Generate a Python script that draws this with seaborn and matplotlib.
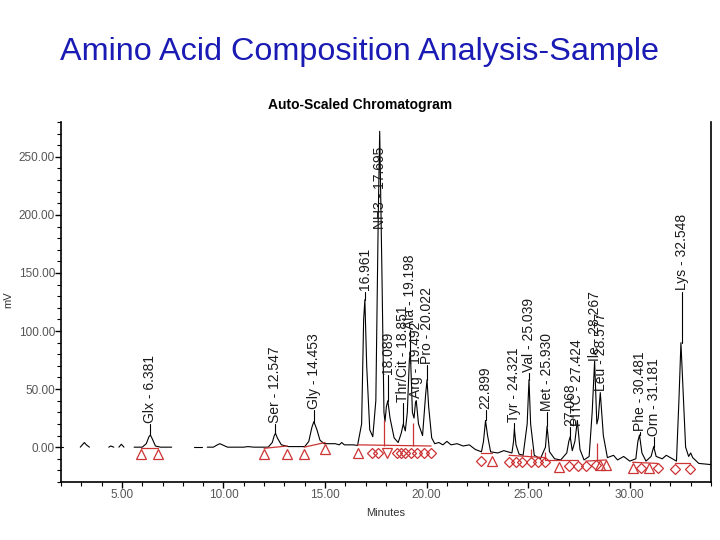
import numpy as np
import pandas as pd
import matplotlib
matplotlib.use("Agg")
import matplotlib.pyplot as plt
from matplotlib.ticker import MultipleLocator, FormatStrFormatter
import seaborn as sns

sns.set_theme(style="ticks")
plt.rcParams["font.family"] = ["Liberation Sans", "DejaVu Sans"]

RED = "#cc3333"
TITLE_BLUE = "#1a1ab4"

# ── Chromatogram trace (minutes, mV); NaN = break in the drawn line ──
trace_t = [2.00, 2.12, np.nan,
           2.95, 3.05, 3.15, 3.25, 3.40, np.nan,
           4.35, 4.45, 4.60, np.nan,
           4.85, 4.97, 5.10, np.nan,
           5.60, 6.00, 6.20, 6.33, 6.40, 6.50, 6.65, 6.90, 7.45, np.nan,
           8.55, 8.95, np.nan,
           9.20, 9.50, 9.70, 9.82, 9.95, 10.20, 11.00, 11.20, 11.50, 12.20,
           12.40, 12.50, 12.56, 12.65, 12.85, 13.20, 14.00, 14.20, 14.35, 14.45,
           14.60, 14.75, 14.95, 15.50, 15.70, 15.82, 15.95, 16.40, 16.60, 16.80,
           16.90, 16.96, 17.05, 17.20, 17.35, 17.50, 17.62, 17.69, 17.80, 17.90,
           17.95, 18.02, 18.09, 18.20, 18.40, 18.60, 18.75, 18.85, 18.95, 19.05,
           19.15, 19.20, 19.30, 19.38, 19.45, 19.49, 19.60, 19.80, 19.95, 20.02,
           20.10, 20.25, 20.40, 20.60, 20.80, 21.00, 21.20, 21.50, 21.80, 22.10,
           22.40, 22.70, 22.80, 22.90, 23.00, 23.15, 23.50, 23.80, 24.00, 24.20,
           24.28, 24.32, 24.40, 24.55, 24.75, 24.95, 25.04, 25.12, 25.30, 25.60,
           25.85, 25.93, 26.05, 26.30, 26.60, 26.90, 27.00, 27.07, 27.17, 27.30,
           27.42, 27.55, 27.75, 28.00, 28.15, 28.27, 28.38, 28.45, 28.55, 28.70,
           28.90, 29.20, 29.40, 29.70, 30.00, 30.30, 30.40, 30.48, 30.60, 30.80,
           31.05, 31.18, 31.30, 31.60, 31.80, 32.10, 32.30, 32.42, 32.52, 32.62,
           32.75, 32.90, 33.00, 33.10, 33.40, 34.00]
trace_mv = [0, 0, np.nan,
            0, 2, 4, 2, 0, np.nan,
            0, 1, 0, np.nan,
            0, 2.5, 0, np.nan,
            0, 0, 3, 9, 10.5, 7, 1, 0, 0, np.nan,
            0, 0, np.nan,
            0, 0, 2, 3, 2, 0, 0, 0.5, 0, 0,
            4, 10, 12, 8, 2, 0.5, 0.5, 5, 17, 22,
            15, 6, 3, 3, 2, 4, 2, 2, 1.5, 20,
            110, 127, 70, 15, 9, 40, 200, 272, 150, 30,
            22, 35, 40, 25, 8, 4, 12, 20, 14, 30,
            75, 82, 30, 25, 38, 40, 20, 10, 45, 58,
            35, 8, 3, 4, 2, 5, 2, 3, 1, 2,
            -2, -4, 5, 23, 10, -4, -5, -3, -4, -5,
            5, 16, 2, -6, -7, 20, 58, 20, -7, -10,
            0, 18, -4, -10, -11, -5, 5, 9, -3, 5,
            23, -2, -11, -8, 30, 74, 20, 25, 47, 10,
            -9, -7, -11, -8, -12, -10, 5, 10.5, -5, -12,
            -8, 0.5, -8, -10, -7, -10, -12, 40, 90, 50,
            0, -8, -5, -9, -14, -15]

# ── Peak labels ──────────────────────────────────────────
label_text = ["Glx - 6.381", "Ser - 12.547", "Gly - 14.453", "16.961",
              "NH3 - 17.695", "18.089", "Thr/Cit - 18.851", "Ala - 19.198",
              "Arg - 19.492", "Pro - 20.022", "22.899", "Tyr - 24.321",
              "Val - 25.039", "Met - 25.930", "27.068", "PITC - 27.424",
              "Ile - 28.267", "Leu - 28.577", "Phe - 30.481", "Orn - 31.181",
              "Lys - 32.548"]
label_rt = [6.381, 12.547, 14.453, 16.961, 17.695, 18.089, 18.851, 19.198,
            19.492, 20.022, 22.899, 24.321, 25.039, 25.930, 27.068, 27.424,
            28.267, 28.577, 30.481, 31.181, 32.548]
peak_top = [10.5, 12, 22, 127, 272, 40, 20, 82, 40, 58, 23, 16, 58, 18, 9,
            23, 74, 47, 10.5, 0.5, 90]
label_base = [20, 20, 32, 134, 187, 62, 38, 101, 41, 71, 32, 21, 64, 30, 17,
              17, 73, 47, 13, 9, 134]

# ── Integration marks (peak start / end) ─────────────────
mark_t = [5.94, 6.77, 12.00, 13.13, 13.97, 15.00,
          16.61, 17.30, 17.62, 18.05, 18.55, 18.72, 18.92, 19.24, 19.53, 19.88, 20.22,
          22.70, 23.24,
          24.06, 24.39, 24.72, 25.13, 25.46, 25.84, 26.53,
          27.02, 27.43, 27.84, 28.33, 28.55, 28.85,
          30.14, 30.55, 30.96, 31.37, 32.25, 32.95]
mark_mv = [-6, -6, -6, -6, -6, -1.5,
           -5, -5, -5, -5, -5, -5, -5, -5, -5, -5, -5,
           -12, -12,
           -13, -13, -13, -13, -13, -13, -17,
           -16, -16, -16, -15, -15, -15,
           -18, -18, -18, -18, -19, -19]
mark_kind = ["^", "^", "^", "^", "^", "^",
             "^", "D", "D", "v", "D", "D", "D", "D", "D", "D", "D",
             "D", "^",
             "D", "D", "D", "D", "D", "D", "^",
             "D", "D", "D", "D", "^", "^",
             "^", "D", "^", "D", "D", "D"]

# integration baselines (start t, start mV, end t, end mV)
base_t0 = [5.94, 12.00, 13.97, 16.60, 22.70, 24.06, 25.84, 27.84, 30.14, 32.25]
base_v0 = [-1, -1, 0, 2, -5, -7, -11, -12, -13, -14]
base_t1 = [6.77, 13.13, 15.00, 20.22, 23.24, 25.84, 27.43, 28.85, 31.37, 32.95]
base_v1 = [-1, 1, 4, 1, -5, -9, -11, -11, -14, -14]

# perpendicular drops (t, valley mV, baseline mV)
drop_t = [17.90, 19.33, 25.13, 25.84, 28.41]
drop_top = [23, 21, -2, -4, 4]
drop_bot = [1, 1, -9, -11, -11]

# ── Figure ───────────────────────────────────────────────
df = pd.DataFrame({"Minutes": trace_t, "mV": trace_mv})
df["seg"] = df["mV"].isna().cumsum()
df = df.dropna()

fig = plt.figure(figsize=(7.2, 5.4), dpi=100)
ax = fig.add_axes([0.0847, 0.1074, 0.9028, 0.6666])

sns.lineplot(data=df, x="Minutes", y="mV", units="seg", estimator=None,
             color="black", linewidth=0.8, ax=ax, legend=False)

for t0, v0, t1, v1 in zip(base_t0, base_v0, base_t1, base_v1):
    ax.plot([t0, t1], [v0, v1], color=RED, lw=0.9)
ax.vlines(drop_t, drop_bot, drop_top, color=RED, lw=0.9)

for kind in set(mark_kind):
    xs = [t for t, k in zip(mark_t, mark_kind) if k == kind]
    ys = [v for v, k in zip(mark_mv, mark_kind) if k == kind]
    ax.plot(xs, ys, ls="none", marker=kind, mfc="none", mec=RED,
            mew=0.9, ms=7.5 if kind in "^v" else 5.5)

for txt, rt, top, base in zip(label_text, label_rt, peak_top, label_base):
    if base > top + 1:
        ax.plot([rt, rt], [top, base], color="black", lw=0.8)
    ax.text(rt, base + 1, txt, rotation=90, ha="center", va="bottom",
            fontsize=10, color="#1a1a1a")

ax.set_xlim(2, 34)
ax.set_ylim(-30, 280)
ax.xaxis.set_major_locator(MultipleLocator(5))
ax.xaxis.set_minor_locator(MultipleLocator(1))
ax.yaxis.set_major_locator(MultipleLocator(50))
ax.yaxis.set_minor_locator(MultipleLocator(10))
ax.xaxis.set_major_formatter(FormatStrFormatter("%.2f"))
ax.yaxis.set_major_formatter(FormatStrFormatter("%.2f"))
ax.tick_params(axis="both", which="major", length=4, width=1, pad=1,
               labelsize=8.5, labelcolor="#555555", color="black")
ax.tick_params(axis="y", which="major", pad=0.3)
ax.tick_params(axis="both", which="minor", length=3, width=0.8, color="black")
ax.set_xlabel("")
ax.set_ylabel("")
for side in ["left", "bottom", "right"]:
    ax.spines[side].set_color("black")
    ax.spines[side].set_linewidth(1.2)
ax.spines["top"].set_visible(False)

fig.text(0.5, 0.889, "Amino Acid Composition Analysis-Sample", ha="center",
         va="baseline", fontsize=23.3, color=TITLE_BLUE)
fig.text(0.5, 0.798, "Auto-Scaled Chromatogram", ha="center", va="baseline",
         fontsize=10, fontweight="bold", color="black")
fig.text(8 / 720, 1 - 300 / 540, "mV", rotation=90, ha="center", va="center",
         fontsize=8, color="#333333")
fig.text(386 / 720, 1 - 513 / 540, "Minutes", ha="center", va="center",
         fontsize=8, color="#333333")

plt.savefig("out.png", dpi=100)
plt.close()
